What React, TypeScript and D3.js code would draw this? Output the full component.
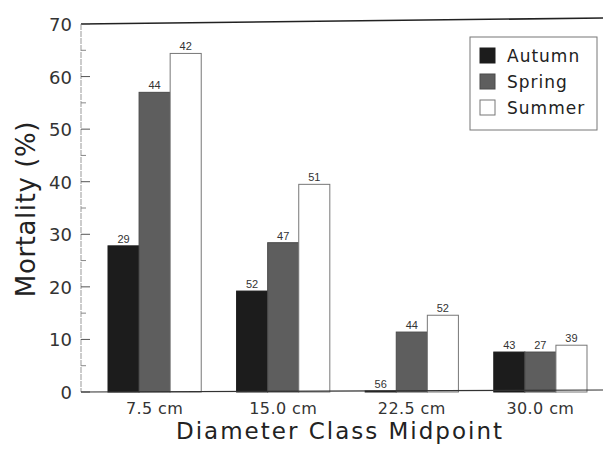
import React, { useEffect, useRef } from "react";
import * as d3 from "d3";

const categories = ["7.5 cm", "15.0 cm", "22.5 cm", "30.0 cm"];
const seasons = ["Autumn", "Spring", "Summer"];
const autumn = [27.8, 19.2, 0.2, 7.6];
const spring = [57.0, 28.4, 11.4, 7.6];
const summer = [64.4, 39.5, 14.6, 8.9];
const autumnN = [29, 52, 56, 43];
const springN = [44, 47, 44, 27];
const summerN = [42, 51, 52, 39];
const yTicks = [0, 10, 20, 30, 40, 50, 60, 70];

export default function App() {
    const ref = useRef<SVGSVGElement>(null);

    useEffect(() => {
        if (!ref.current) return;
        const width = 603;
        const left = 81;
        const top = 24;
        const bottom = 392;
        const font = "'DejaVu Sans', Verdana, sans-serif";
        const small = "'Liberation Sans', Arial, sans-serif";

        const svg = d3.select(ref.current);
        svg.selectAll("*").remove();

        const x0 = d3.scaleBand<string>().domain(categories).range([left, 614]).paddingInner(0.275).paddingOuter(0.21);
        const x1 = d3.scaleBand<string>().domain(seasons).range([0, x0.bandwidth()]);
        const y = d3.scaleLinear().domain([0, 70]).range([bottom, top]);

        const values = [autumn, spring, summer];
        const counts = [autumnN, springN, summerN];
        const fills = ["#1c1c1c", "#5e5e5e", "#ffffff"];
        const strokes = ["#1c1c1c", "#4a4a4a", "#777777"];

        // frame (scanned original is slightly skewed)
        svg.append("line").attr("x1", left).attr("x2", width).attr("y1", top).attr("y2", top - 6)
            .attr("stroke", "#222").attr("stroke-width", 1.6);
        svg.append("line").attr("x1", left).attr("x2", left).attr("y1", top).attr("y2", bottom)
            .attr("stroke", "#999").attr("stroke-width", 1).attr("stroke-dasharray", "6,1");
        // minor ticks
        d3.range(5, 70, 10).forEach((v) => {
            svg.append("line").attr("x1", left).attr("x2", left + 5).attr("y1", y(v)).attr("y2", y(v))
                .attr("stroke", "#888").attr("stroke-width", 1);
        });
        yTicks.forEach((v) => {
            svg.append("line").attr("x1", left).attr("x2", left + 9).attr("y1", y(v)).attr("y2", y(v))
                .attr("stroke", "#555").attr("stroke-width", 1);
            svg.append("text").attr("x", 72).attr("y", y(v) + 7).attr("text-anchor", "end")
                .attr("font-family", font).attr("font-size", 18).attr("fill", "#333").text(v);
        });

        // bars
        categories.forEach((c, i) => {
            seasons.forEach((s, j) => {
                const v = values[j][i];
                const bx = (x0(c) || 0) + (x1(s) || 0);
                svg.append("rect").attr("x", bx).attr("y", y(v)).attr("width", x1.bandwidth())
                    .attr("height", y(0) - y(v)).attr("fill", fills[j]).attr("stroke", strokes[j])
                    .attr("stroke-width", 1);
                svg.append("text").attr("x", bx + x1.bandwidth() / 2).attr("y", y(v) - 3)
                    .attr("text-anchor", "middle").attr("font-family", small).attr("font-size", 11)
                    .attr("fill", "#333").text(counts[j][i]);
            });
            svg.append("text").attr("x", (x0(c) || 0) + x0.bandwidth() / 2).attr("y", 414)
                .attr("text-anchor", "middle").attr("font-family", font).attr("font-size", 16)
                .attr("fill", "#333").attr("letter-spacing", 0.4).text(c);
        });

        svg.append("line").attr("x1", left).attr("x2", width).attr("y1", bottom).attr("y2", bottom - 2)
            .attr("stroke", "#333").attr("stroke-width", 1.2);

        // axis titles
        svg.append("text").attr("transform", `translate(35,209) rotate(-90)`)
            .attr("text-anchor", "middle").attr("font-family", font).attr("font-size", 26)
            .attr("fill", "#222").attr("letter-spacing", 0.6).text("Mortality (%)");
        svg.append("text").attr("x", 340).attr("y", 439).attr("text-anchor", "middle")
            .attr("font-family", font).attr("font-size", 23).attr("fill", "#222")
            .attr("letter-spacing", 2).text("Diameter Class Midpoint");

        // legend
        const lg = svg.append("g");
        lg.append("rect").attr("x", 470).attr("y", 37).attr("width", 127).attr("height", 93)
            .attr("fill", "#fff").attr("stroke", "#777").attr("stroke-width", 1);
        seasons.forEach((s, j) => {
            const ly = 48 + j * 26;
            lg.append("rect").attr("x", 480).attr("y", ly).attr("width", 15).attr("height", 15)
                .attr("fill", fills[j]).attr("stroke", strokes[j]).attr("stroke-width", 1);
            lg.append("text").attr("x", 507).attr("y", ly + 14).attr("font-family", font)
                .attr("font-size", 17).attr("fill", "#222").attr("letter-spacing", 1).text(s);
        });
    }, []);

    return (
        <svg ref={ref} width={603} height={451}
            style={{ position: "absolute", left: 0, top: 0, background: "#fff" }} />
    );
}
